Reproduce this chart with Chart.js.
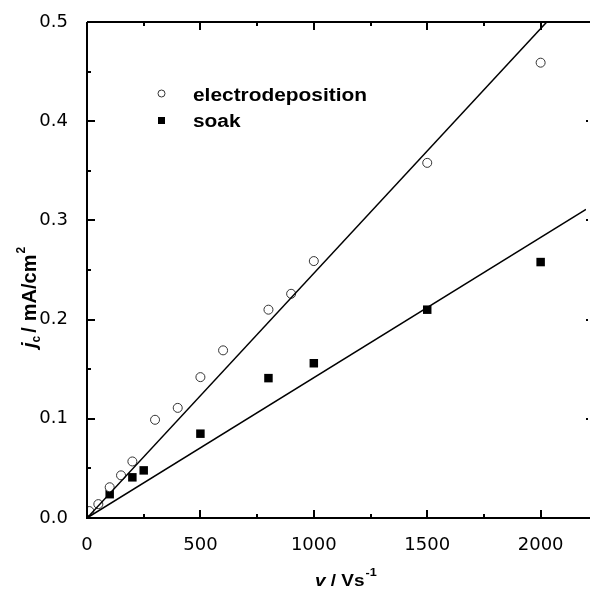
<!DOCTYPE html>
<html>
<head>
<meta charset="utf-8">
<script src="https://cdn.jsdelivr.net/npm/chart.js@4.4.1/dist/chart.umd.min.js"></script>
<style>
  html, body { margin: 0; padding: 0; background: #fff; }
  #wrap { width: 592px; height: 590px; }
</style>
</head>
<body>
<div id="wrap"><canvas id="chart" width="592" height="590"></canvas></div>
<script>
// scan rate v (V/s) and current density jc (mA/cm2)
const electroV = [10, 50, 100, 150, 200, 300, 400, 500, 600, 800, 900, 1000, 1500, 2000];
const electroJ = [0.007, 0.014, 0.031, 0.043, 0.057, 0.099, 0.111, 0.142, 0.169, 0.210, 0.226, 0.259, 0.358, 0.459];
const soakV = [100, 200, 250, 500, 800, 1000, 1500, 2000];
const soakJ = [0.024, 0.041, 0.048, 0.085, 0.141, 0.156, 0.210, 0.258];

// linear fits (end points)
const electroFitV = [0, 2027];
const electroFitJ = [0, 0.5];
const soakFitV = [0, 2200];
const soakFitJ = [0, 0.311];

const xMajor = [0, 500, 1000, 1500, 2000];
const xMinor = [250, 750, 1250, 1750];
const yMajor = [0, 0.1, 0.2, 0.3, 0.4, 0.5];
const yMinor = [0.05, 0.15, 0.25, 0.35, 0.45];

const toPts = (xs, ys) => xs.map((x, i) => ({ x: x, y: ys[i] }));

const FONT = "'Liberation Sans', Arial, Helvetica, sans-serif";
const TICKFONT = "'DejaVu Sans', sans-serif";

// text a bit wider than the font, like the original
function wideText(ctx, str, x, y, sx) {
  ctx.save();
  ctx.translate(x, y);
  ctx.scale(sx, 1);
  ctx.fillText(str, 0, 0);
  const w = ctx.measureText(str).width * sx;
  ctx.restore();
  return w;
}

// axes frame, inward ticks, titles and legend
const framePlugin = {
  id: "frame",
  afterDraw(chart) {
    const ctx = chart.ctx;
    const a = chart.chartArea;
    const xs = chart.scales.x;
    const ys = chart.scales.y;
    ctx.save();
    ctx.strokeStyle = "#000";
    ctx.lineWidth = 2;
    ctx.beginPath();
    ctx.moveTo(a.left, a.top);
    ctx.lineTo(a.left, a.bottom);
    ctx.lineTo(a.right + 4, a.bottom);
    ctx.moveTo(a.left, a.top);
    ctx.lineTo(a.right + 4, a.top);
    ctx.stroke();

    ctx.beginPath();
    xMajor.forEach(v => {
      const p = Math.round(xs.getPixelForValue(v));
      ctx.moveTo(p, a.bottom); ctx.lineTo(p, a.bottom - 8);
      ctx.moveTo(p, a.top); ctx.lineTo(p, a.top + 8);
    });
    xMinor.forEach(v => {
      const p = Math.round(xs.getPixelForValue(v));
      ctx.moveTo(p, a.bottom); ctx.lineTo(p, a.bottom - 4);
      ctx.moveTo(p, a.top); ctx.lineTo(p, a.top + 4);
    });
    yMajor.forEach(v => {
      const p = Math.round(ys.getPixelForValue(v));
      ctx.moveTo(a.left, p); ctx.lineTo(a.left + 8, p);
      ctx.moveTo(a.right + 2, p); ctx.lineTo(a.right, p);
    });
    yMinor.forEach(v => {
      const p = Math.round(ys.getPixelForValue(v));
      ctx.moveTo(a.left, p); ctx.lineTo(a.left + 4, p);
    });
    ctx.stroke();

    // x title: v / Vs-1
    ctx.fillStyle = "#000";
    ctx.textBaseline = "alphabetic";
    ctx.textAlign = "left";
    let x = 315, y = 586;
    ctx.font = "italic bold 16.5px " + FONT;
    x += wideText(ctx, "v", x, y, 1.15);
    ctx.font = "bold 16.5px " + FONT;
    x += wideText(ctx, " / Vs", x, y, 1.15);
    ctx.font = "bold 11px " + FONT;
    wideText(ctx, "-1", x + 1, y - 10, 1.15);

    // y title: jc / mA/cm2 (rotated)
    ctx.save();
    ctx.translate(36, 348);
    ctx.rotate(-Math.PI / 2);
    x = 0; y = 0;
    ctx.font = "italic bold 20px " + FONT;
    ctx.fillText("j", x, y);
    x += ctx.measureText("j").width;
    ctx.font = "bold 12px " + FONT;
    ctx.fillText("c", x, y + 4);
    x += ctx.measureText("c").width + 3;
    ctx.font = "bold 20px " + FONT;
    ctx.fillText("/", x, y);
    x += ctx.measureText("/").width + 6;
    ctx.fillText("mA/cm", x, y);
    x += ctx.measureText("mA/cm").width;
    ctx.font = "bold 12px " + FONT;
    ctx.fillText("2", x + 1, y - 11);
    ctx.restore();

    // legend
    ctx.lineWidth = 1;
    ctx.strokeStyle = "#333";
    ctx.fillStyle = "#fff";
    ctx.beginPath();
    ctx.arc(161.5, 93.5, 3.5, 0, Math.PI * 2);
    ctx.fill();
    ctx.stroke();
    ctx.fillStyle = "#000";
    ctx.fillRect(158, 117, 7, 7);
    ctx.font = "bold 18px " + FONT;
    wideText(ctx, "electrodeposition", 193, 101, 1.16);
    wideText(ctx, "soak", 193, 127, 1.16);
    ctx.restore();
  }
};

new Chart(document.getElementById("chart"), {
  type: "scatter",
  data: {
    datasets: [
      {
        label: "electrodeposition fit",
        data: toPts(electroFitV, electroFitJ),
        showLine: true,
        borderColor: "#000",
        borderWidth: 1.5,
        pointRadius: 0,
        fill: false,
      },
      {
        label: "soak fit",
        data: toPts(soakFitV, soakFitJ),
        showLine: true,
        borderColor: "#000",
        borderWidth: 1.5,
        pointRadius: 0,
        fill: false,
      },
      {
        label: "electrodeposition",
        data: toPts(electroV, electroJ),
        pointStyle: "circle",
        pointRadius: 4.5,
        pointBorderWidth: 1,
        pointBorderColor: "#333",
        pointBackgroundColor: "#fff",
      },
      {
        label: "soak",
        data: toPts(soakV, soakJ),
        pointStyle: "rect",
        pointRadius: 6,
        pointBorderWidth: 0,
        pointBorderColor: "#000",
        pointBackgroundColor: "#000",
      },
    ],
  },
  options: {
    responsive: false,
    animation: false,
    layout: { padding: { left: 0, right: 2, top: 22, bottom: 0 } },
    plugins: { legend: { display: false }, tooltip: { enabled: false } },
    scales: {
      x: {
        type: "linear",
        min: 0,
        max: 2200,
        grid: { display: false },
        border: { display: false },
        afterBuildTicks: (s) => { s.ticks = xMajor.map(v => ({ value: v })); },
        afterFit: (s) => { s.height = 72; },
        ticks: {
          padding: 9,
          color: "#000",
          font: { family: TICKFONT, size: 18 },
          maxRotation: 0,
          callback: (v) => String(v),
        },
      },
      y: {
        type: "linear",
        min: 0,
        max: 0.5,
        grid: { display: false },
        border: { display: false },
        afterBuildTicks: (s) => { s.ticks = yMajor.map(v => ({ value: v })); },
        afterFit: (s) => { s.width = 87; },
        ticks: {
          padding: 11,
          color: "#000",
          font: { family: TICKFONT, size: 18 },
          callback: (v) => v.toFixed(1),
        },
      },
    },
  },
  plugins: [framePlugin],
});
</script>
</body>
</html>
